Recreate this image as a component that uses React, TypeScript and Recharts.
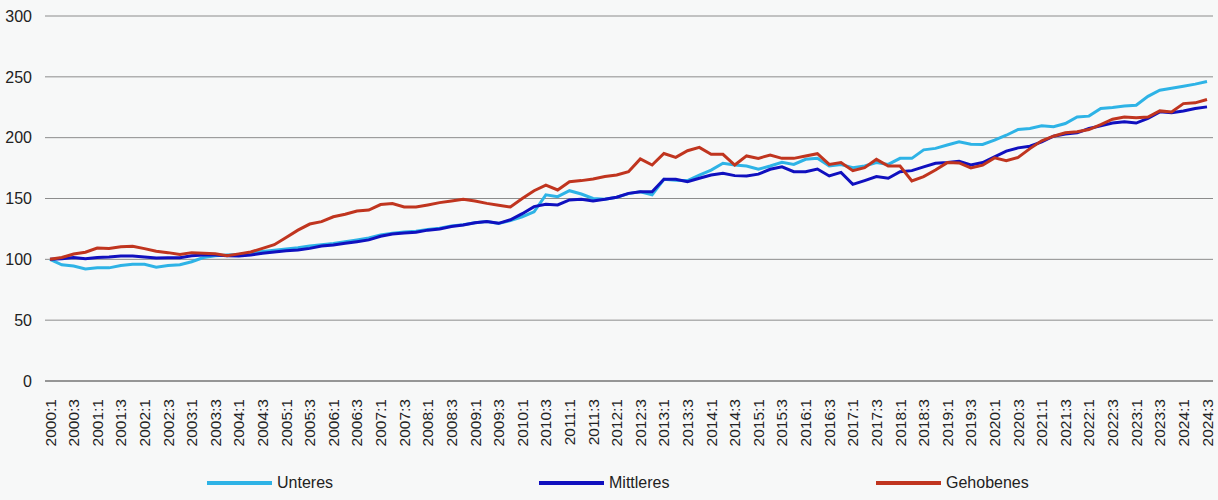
import React from 'react'
import { LineChart, Line, XAxis, YAxis, CartesianGrid } from 'recharts'

// quarters 2000:1 .. 2024:3
const years = [
  2000, 2001, 2002, 2003, 2004, 2005, 2006, 2007, 2008, 2009, 2010, 2011, 2012,
  2013, 2014, 2015, 2016, 2017, 2018, 2019, 2020, 2021, 2022, 2023, 2024,
]
const quarters: string[] = []
years.forEach((y) => {
  for (let q = 1; q <= 4; q++) {
    if (y === 2024 && q > 3) break
    quarters.push(`${y}:${q}`)
  }
})

const unteres = [
  100, 95.5, 94.5, 92, 93, 93, 95, 96, 96, 93.5,
  95, 95.5, 98, 101.5, 103, 103.5, 104, 105.5, 106.5, 107.5,
  108.5, 109.5, 111, 112, 113, 114.5, 116, 117.5, 120, 121.5,
  122.5, 123, 124.5, 125.5, 127.5, 128.5, 130, 131, 129.5, 131.8,
  135, 139, 153, 151.5, 156.4, 153.7, 150, 149.3, 151, 154,
  155.5, 153, 165.8, 165, 164.7, 169.3, 173.4, 179, 177.5, 176.7,
  174, 176.7, 179.7, 178, 182.2, 183, 176.7, 178, 175.3, 176.7,
  179.5, 178, 183, 183, 190, 191.2, 194, 196.7, 194.6, 194.4,
  198, 202, 206.7, 207.5, 209.7, 209, 211.6, 217, 217.7, 224,
  224.8, 226, 226.7, 234, 239, 240.7, 242.3, 244, 246.2,
]

const mittleres = [
  100, 100.5, 101.6, 100.5, 101.6, 102, 102.7, 102.7, 102, 101,
  101.2, 101.4, 103, 103.5, 103.5, 103, 102.7, 103.5, 105, 106,
  107, 107.7, 109, 111, 111.8, 113.2, 114.5, 116, 119, 120.8,
  121.6, 122.2, 124, 125, 127, 128.2, 130, 131, 129.6, 132.5,
  137.5, 143.3, 145.2, 144.7, 148.8, 149.3, 148, 149.3, 151, 154.2,
  155.6, 155.6, 165.8, 165.8, 163.8, 166.6, 169.3, 170.7, 168.8, 168.5,
  170, 174, 176, 172, 172, 174.2, 168.5, 171.5, 161.6, 164.7,
  168, 166.6, 172, 172.9, 176, 179, 179.5, 180.5, 177.6, 179.6,
  184.2, 189, 191.6, 193, 196.6, 201.2, 203, 204, 207.5, 209.7,
  212, 213, 212, 215.8, 221.2, 220.4, 222, 224, 225.3,
]

const gehobenes = [
  100, 101.5, 104.4, 105.8, 109.3, 109, 110.4, 110.7, 108.8, 106.6,
  105.5, 104, 105.5, 105, 104.5, 103, 104.5, 106, 109, 112,
  118, 124, 129, 131, 135, 137, 139.7, 140.5, 145, 145.8,
  143, 143, 144.7, 146.6, 148, 149.3, 148, 146, 144.5, 143,
  150, 156.4, 161, 157, 163.8, 164.7, 166, 168, 169.3, 172,
  182.5, 177.5, 187, 183.8, 189.3, 192, 186.3, 186.3, 177.5, 185,
  183, 185.8, 183, 183, 185, 186.8, 178, 179.5, 172.9, 175.3,
  182.2, 176.7, 176.7, 164.4, 168, 173.4, 179.5, 179.2, 175.2, 177.4,
  183.4, 181, 183.7, 191, 197.4, 201.2, 204, 204.8, 206.7, 210.8,
  215.2, 217, 216.3, 217, 222, 221.2, 228, 228.6, 231.4,
]

const yTicks = [0, 50, 100, 150, 200, 250, 300]

const series = [
  { key: 'unteres', name: 'Unteres', color: '#2eb3e6', left: 207 },
  { key: 'mittleres', name: 'Mittleres', color: '#1010bf', left: 539 },
  { key: 'gehobenes', name: 'Gehobenes', color: '#c0351f', left: 876 },
]

const data = quarters.map((q, i) => ({
  q,
  unteres: unteres[i],
  mittleres: mittleres[i],
  gehobenes: gehobenes[i],
}))

const font = '"Liberation Sans", Arial, sans-serif'

function QuarterTick(props: any) {
  const { x, y, payload } = props
  return (
    <text
      x={x}
      y={y}
      transform={`rotate(-90, ${x}, ${y})`}
      textAnchor="end"
      dominantBaseline="central"
      fontSize={15.5}
      fontFamily={font}
      fill="#222"
    >
      {payload.value}
    </text>
  )
}

export default function App() {
  return (
    <div
      style={{
        position: 'absolute',
        left: 0,
        top: 0,
        width: 1218,
        height: 500,
        background: '#f7f8f8',
        fontFamily: font,
      }}
    >
      <LineChart
        width={1218}
        height={500}
        data={data}
        margin={{ top: 16, right: 5, bottom: 59, left: 0 }}
      >
        <CartesianGrid vertical={false} stroke="#8c8c8c" strokeWidth={1} />
        <XAxis
          dataKey="q"
          interval={1}
          tickLine={false}
          axisLine={{ stroke: '#6a6a6a' }}
          padding={{ left: 5, right: 6 }}
          height={60}
          tickMargin={12}
          tick={<QuarterTick />}
        />
        <YAxis
          domain={[0, 300]}
          ticks={yTicks}
          width={45}
          axisLine={false}
          tickLine={false}
          tickSize={0}
          tickMargin={13}
          tick={{ fontSize: 16, fill: '#222', fontFamily: font }}
        />
        {series.map((s) => (
          <Line
            key={s.key}
            dataKey={s.key}
            name={s.name}
            type="linear"
            stroke={s.color}
            strokeWidth={3}
            dot={false}
            isAnimationActive={false}
          />
        ))}
      </LineChart>
      {series.map((s) => (
        <div
          key={s.key}
          style={{
            position: 'absolute',
            left: s.left,
            top: 474,
            display: 'flex',
            alignItems: 'center',
            fontSize: 16,
            color: '#222',
          }}
        >
          <span style={{ display: 'inline-block', width: 65, height: 4, background: s.color, marginRight: 5 }} />
          {s.name}
        </div>
      ))}
    </div>
  )
}
